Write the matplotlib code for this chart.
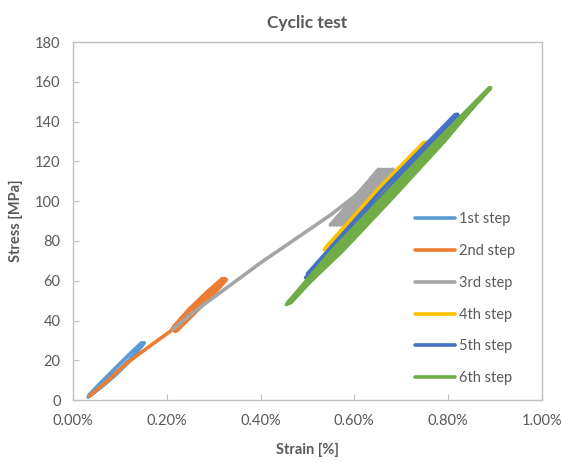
import matplotlib
matplotlib.use("Agg")
import matplotlib.pyplot as plt
from matplotlib.ticker import FuncFormatter, MultipleLocator

plt.rcParams['font.family'] = ['Lato', 'DejaVu Sans']

# strain in %, stress in MPa, one list pair per loading step
step1_strain = [0.032, 0.060, 0.090, 0.120, 0.150, 0.146, 0.118, 0.088, 0.058, 0.034,
                0.040, 0.070, 0.100, 0.130, 0.152]
step1_stress = [1.5, 6.5, 12.5, 19.5, 28.5, 28.8, 22.5, 15.5, 8.5, 2.5,
                3.0, 9.0, 15.5, 22.5, 28.8]

step2_strain = [0.035, 0.075, 0.115, 0.160, 0.207, 0.250, 0.290, 0.325,
                0.318, 0.280, 0.245, 0.212, 0.218, 0.255, 0.290, 0.326,
                0.320, 0.283, 0.248, 0.215, 0.222, 0.260, 0.295, 0.327]
step2_stress = [2.0, 10.0, 18.6, 26.5, 34.5, 44.0, 53.0, 61.0,
                61.0, 53.0, 45.0, 36.0, 34.5, 43.0, 51.5, 60.5,
                61.0, 53.5, 45.5, 37.0, 35.0, 44.0, 52.0, 60.5]

step3_strain = [0.212, 0.256, 0.400, 0.549, 0.620, 0.652,
                0.549, 0.659, 0.556, 0.666, 0.563, 0.673, 0.570, 0.680,
                0.577, 0.683, 0.581]
step3_stress = [35.5, 44.0, 69.0, 93.0, 106.0, 116.0,
                88.0, 116.0, 88.0, 116.0, 88.0, 116.0, 88.0, 116.0,
                88.0, 116.0, 88.0]

step4_strain = [0.536, 0.640, 0.752, 0.748, 0.650, 0.540, 0.545, 0.650, 0.755]
step4_stress = [75.6, 101.0, 129.6, 129.5, 106.0, 77.0, 76.0, 102.0, 129.3]

step5_strain = [0.496, 0.660, 0.820, 0.815, 0.660, 0.500, 0.505, 0.665, 0.822]
step5_stress = [61.5, 103.0, 143.7, 143.5, 106.0, 63.5, 62.0, 103.0, 143.0]

step6_strain = [0.455, 0.575, 0.683, 0.792, 0.888,
                0.775, 0.661, 0.552, 0.458,
                0.460, 0.570, 0.678, 0.788, 0.891,
                0.779, 0.666, 0.557, 0.462,
                0.465, 0.565, 0.673, 0.785, 0.889]
step6_stress = [48.0, 75.0, 102.0, 130.0, 157.0,
                130.0, 102.0, 75.0, 49.0,
                48.5, 75.0, 102.0, 130.0, 157.0,
                130.0, 102.0, 75.0, 49.5,
                49.0, 75.0, 102.0, 130.0, 156.5]

steps = [
    ('1st step', step1_strain, step1_stress, '#5B9BD5'),
    ('2nd step', step2_strain, step2_stress, '#ED7D31'),
    ('3rd step', step3_strain, step3_stress, '#A5A5A5'),
    ('4th step', step4_strain, step4_stress, '#FFC000'),
    ('5th step', step5_strain, step5_stress, '#4472C4'),
    ('6th step', step6_strain, step6_stress, '#70AD47'),
]

text_color = '#595959'
frame_color = '#BFBFBF'

fig = plt.figure(figsize=(5.62, 4.62), dpi=100)
ax = fig.add_axes([0.130, 0.134, 0.834, 0.775])

for label, x, y, color in steps:
    ax.plot(x, y, color=color, lw=2.6, label=label,
            solid_capstyle='round', solid_joinstyle='round')

ax.set_xlim(0, 1.0)
ax.set_ylim(0, 180)
ax.xaxis.set_major_locator(MultipleLocator(0.2))
ax.yaxis.set_major_locator(MultipleLocator(20))
ax.xaxis.set_major_formatter(FuncFormatter(lambda v, p: f'{v:.2f}%'))

for s in ax.spines.values():
    s.set_color(frame_color)
    s.set_linewidth(1.0)
ax.tick_params(direction='in', length=4, width=0.8, color=frame_color,
               labelcolor=text_color, labelsize=10.5)
ax.tick_params(axis='y', pad=9)
ax.tick_params(axis='x', pad=10)

ax.set_title('Cyclic test', fontsize=12.5, fontweight='bold', color=text_color, pad=10)
ax.set_xlabel('Strain [%]', fontsize=10.5, fontweight='bold', color=text_color, labelpad=11)
ax.set_ylabel('Stress [MPa]', fontsize=10.5, fontweight='bold', color=text_color, labelpad=9)

ax.legend(loc='upper left', bbox_to_anchor=(0.713, 0.545), frameon=False,
          fontsize=10.5, labelcolor=text_color, handlelength=2.75,
          handletextpad=0.3, labelspacing=1.22, borderpad=0)

fig.savefig('out.png', dpi=100)
